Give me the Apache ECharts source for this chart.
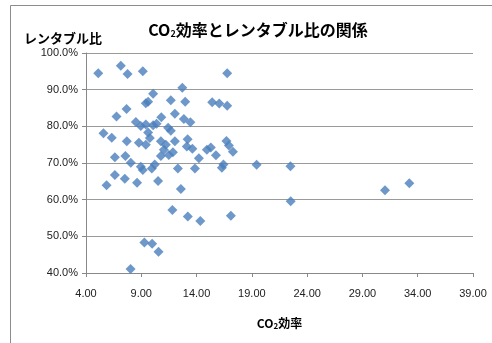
<!DOCTYPE html>
<html>
<head>
<meta charset="utf-8">
<script src="https://cdn.jsdelivr.net/npm/echarts@6/dist/echarts.min.js"></script>
<style>
  html, body { margin: 0; padding: 0; background: #fff; }
  #chart { width: 492px; height: 343px; }
</style>
</head>
<body>
<div id="chart"></div>
<script>
// CO2 efficiency (x) and rentable ratio in % (y) for each building
const co2Efficiency = [
  5.11, 7.15, 7.76, 9.14, 12.71, 16.77, 10.07, 9.41, 9.62, 11.67,
  12.97, 15.41, 16.05, 16.77, 7.67, 6.76, 12.04, 10.81, 12.85, 13.44,
  8.51, 8.96, 9.41, 10.07, 10.38, 11.43, 11.67, 5.58, 6.33, 7.69,
  8.78, 9.41, 9.77, 9.62, 10.77, 11.22, 12.04, 11.04, 11.86, 10.77,
  11.49, 13.19, 13.12, 13.62, 14.21, 14.93, 15.29, 15.75, 16.70, 16.92,
  17.29, 6.61, 7.56, 8.05, 8.96, 9.14, 9.95, 10.22, 12.31, 13.85,
  16.29, 16.43, 19.43, 22.49, 6.61, 7.51, 5.86, 8.62, 10.52, 12.58,
  11.81, 13.21, 14.34, 17.10, 22.51, 31.04, 33.24, 9.28, 9.98, 10.56,
  8.03
];
const rentableRatio = [
  94.5, 96.5, 94.3, 95.0, 90.5, 94.5, 88.9, 86.3, 86.7, 87.1,
  86.7, 86.6, 86.2, 85.6, 84.7, 82.7, 83.4, 82.5, 82.0, 81.1,
  81.2, 80.1, 80.5, 80.3, 80.7, 79.6, 78.8, 78.1, 76.9, 75.9,
  75.5, 75.0, 76.8, 78.3, 75.9, 75.0, 75.9, 73.6, 72.9, 71.9,
  72.2, 76.5, 74.5, 73.9, 71.3, 73.6, 74.2, 72.1, 76.0, 74.8,
  73.1, 71.6, 71.9, 70.1, 69.0, 68.1, 68.5, 69.6, 68.5, 68.5,
  68.7, 69.6, 69.5, 69.1, 66.7, 65.7, 63.9, 64.6, 65.1, 62.9,
  57.2, 55.4, 54.2, 55.6, 59.6, 62.6, 64.5, 48.3, 48.0, 45.8,
  41.1
];

const xMin = 4, xMax = 39, xStep = 5;
const yMin = 40, yMax = 100, yStep = 10;

const points = co2Efficiency.map((x, i) => [x, rentableRatio[i]]);

const chart = echarts.init(document.getElementById('chart'), null, { renderer: 'canvas' });
const font = '"Noto Sans CJK JP", "Noto Sans", sans-serif';

chart.setOption({
  animation: false,
  backgroundColor: '#ffffff',
  graphic: [{
    type: 'rect',
    shape: { x: 10.5, y: 5.5, width: 500, height: 400 },
    style: { fill: 'none', stroke: '#8c8c8c', lineWidth: 1 },
    silent: true
  }],
  title: {
    text: 'CO{sub|2}効率とレンタブル比の関係',
    left: 253,
    textAlign: 'center',
    top: 16,
    textStyle: {
      fontFamily: font,
      fontSize: 16,
      fontWeight: 'bold',
      color: '#000',
      rich: {
        sub: { fontFamily: font, fontSize: 9, fontWeight: 'bold', color: '#000', padding: [8, 0, 0, 0] }
      }
    }
  },
  grid: { left: 86, right: 19, top: 53, bottom: 70 },
  xAxis: {
    type: 'value',
    min: xMin, max: xMax, interval: xStep,
    name: 'CO{sub|2}効率',
    nameLocation: 'middle',
    nameGap: 44,
    nameTextStyle: {
      fontFamily: font, fontSize: 12, fontWeight: 'bold', color: '#000',
      rich: { sub: { fontFamily: font, fontSize: 8, fontWeight: 'bold', color: '#000', padding: [5, 0, 0, 0] } }
    },
    axisLine: { show: true, onZero: false, lineStyle: { color: '#888', width: 1 } },
    axisTick: { show: true, inside: false, length: 4, lineStyle: { color: '#888' } },
    splitLine: { show: false },
    axisLabel: {
      margin: 15,
      fontFamily: '"Liberation Sans", Arial, sans-serif',
      fontSize: 11,
      color: '#222',
      formatter: v => v.toFixed(2)
    }
  },
  yAxis: {
    type: 'value',
    min: yMin, max: yMax, interval: yStep,
    name: 'レンタブル比',
    nameLocation: 'end',
    nameGap: 8,
    nameTextStyle: {
      fontFamily: font, fontSize: 13, fontWeight: 'bold', color: '#000',
      align: 'left', padding: [0, 0, 0, -62]
    },
    axisLine: { show: true, lineStyle: { color: '#888', width: 1 } },
    axisTick: { show: true, inside: false, length: 4, lineStyle: { color: '#888' } },
    splitLine: { show: true, lineStyle: { color: '#9a9a9a', width: 1 } },
    axisLabel: {
      margin: 8,
      fontFamily: '"Liberation Sans", Arial, sans-serif',
      fontSize: 11,
      color: '#222',
      formatter: v => v.toFixed(1) + '%'
    }
  },
  series: [{
    type: 'scatter',
    data: points,
    symbol: 'diamond',
    symbolSize: 10,
    itemStyle: { color: '#4a7ebb' }
  }]
});
</script>
</body>
</html>
